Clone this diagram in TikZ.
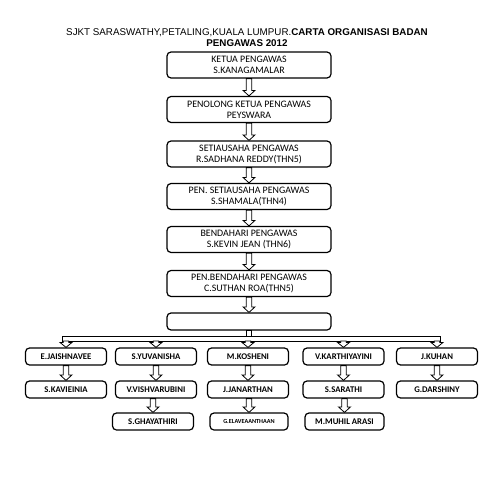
\documentclass[tikz,border=0pt]{standalone}
\usepackage{fontspec}
\setmainfont{Carlito}
\newfontfamily\titlefont{Liberation Sans}
\usetikzlibrary{calc}
\tikzset{
  mainbox/.style={draw=black, line width=1.2pt, rounded corners=4pt, fill=white,
    minimum width=164pt, minimum height=26pt, inner sep=1pt, align=center,
    font=\fontsize{9.9}{11}\selectfont},
  kidbox/.style={draw=black, line width=1.2pt, rounded corners=4pt, fill=white,
    minimum width=81pt, minimum height=17pt, inner sep=1pt, align=center,
    font=\bfseries\fontsize{8.7}{9}\selectfont},
  hollow/.style={draw=black, fill=white, line width=0.8pt},
}
\newcommand{\harrow}[2]{%
  \path[hollow] let \p1=(#1.south), \p2=(#2.north) in
    (\x2-2.8pt,\y1) -- (\x2-2.8pt,\y2+5.5pt) -- (\x2-6pt,\y2+5.5pt) -- (\x2,\y2)
    -- (\x2+6pt,\y2+5.5pt) -- (\x2+2.8pt,\y2+5.5pt) -- (\x2+2.8pt,\y1) -- cycle;}
\begin{document}
\begin{tikzpicture}[x=1pt,y=-1pt]
\useasboundingbox[fill=white] (0,0) rectangle (495,495);
\node[font=\titlefont\fontsize{9.8}{11}\selectfont, align=center] (title) at (247,37.5)
  {SJKT SARASWATHY,PETALING,KUALA LUMPUR.\textbf{CARTA ORGANISASI BADAN}\\ \textbf{PENGAWAS 2012}};
% main column
\node[mainbox] (m1) at (249,65) {KETUA PENGAWAS\\S.KANAGAMALAR};
\node[mainbox] (m2) at (249,109.5) {PENOLONG KETUA PENGAWAS\\PEYSWARA};
\node[mainbox] (m3) at (249,154) {SETIAUSAHA PENGAWAS\\R.SADHANA REDDY(THN5)};
\node[mainbox] (m4) at (249,196.5) {PEN. SETIAUSAHA PENGAWAS\\S.SHAMALA(THN4)};
\node[mainbox] (m5) at (249,239.5) {BENDAHARI PENGAWAS\\S.KEVIN JEAN (THN6)};
\node[mainbox] (m6) at (249,283.5) {PEN.BENDAHARI PENGAWAS\\C.SUTHAN ROA(THN5)};
\node[mainbox, minimum height=17pt] (m7) at (249,321.5) {};
% children row 1
\node[kidbox] (a1) at (66,356.5) {E.JAISHNAVEE};
\node[kidbox] (b1) at (156,356.5) {S.YUVANISHA};
\node[kidbox] (c1) at (248,356.5) {M.KOSHENI};
\node[kidbox] (d1) at (343.5,356.5) {V.KARTHIYAYINI};
\node[kidbox] (e1) at (437,356.5) {J.KUHAN};
% row 2
\node[kidbox] (a2) at (66,389.5) {S.KAVIEINIA};
\node[kidbox] (b2) at (156,389.5) {V.VISHVARUBINI};
\node[kidbox] (c2) at (248,389.5) {J.JANARTHAN};
\node[kidbox] (d2) at (343.5,389.5) {S.SARATHI};
\node[kidbox] (e2) at (437,389.5) {G.DARSHINY};
% row 3
\node[kidbox] (b3) at (153,421.5) {S.GHAYATHIRI};
\node[kidbox, minimum width=78pt, font=\bfseries\fontsize{6.2}{7}\selectfont] (c3) at (249,421.5) {G.ELAVEAANTHAAN};
\node[kidbox, minimum width=79pt] (d3) at (344.5,421.5) {M.MUHIL ARASI};
% main column arrows
\harrow{m1}{m2}
\harrow{m2}{m3}
\harrow{m3}{m4}
\harrow{m4}{m5}
\harrow{m5}{m6}
\harrow{m6}{m7}
% bar
\coordinate (barL) at (62.5,336);
\coordinate (barR) at (440.5,341);
\path[hollow] let \p1=(m7.south), \p2=(barL) in
  (\x1-2.8pt,\y1) rectangle (\x1+2.8pt,\y2);
\path[hollow] (barL) rectangle (barR);
\coordinate (barB) at (249,341);
\foreach \k in {a1,b1,c1,d1,e1}{
  \path[hollow] let \p1=(barB), \p2=(\k.north) in
    (\x2-2.8pt,\y1) -- (\x2-2.8pt,\y2+5pt) -- (\x2-6pt,\y2+5pt) -- (\x2,\y2)
    -- (\x2+6pt,\y2+5pt) -- (\x2+2.8pt,\y2+5pt) -- (\x2+2.8pt,\y1) -- cycle;
}
% children arrows
\harrow{a1}{a2}
\harrow{b1}{b2}
\harrow{c1}{c2}
\harrow{d1}{d2}
\harrow{e1}{e2}
\harrow{b2}{b3}
\harrow{c2}{c3}
\harrow{d2}{d3}
\end{tikzpicture}
\end{document}
